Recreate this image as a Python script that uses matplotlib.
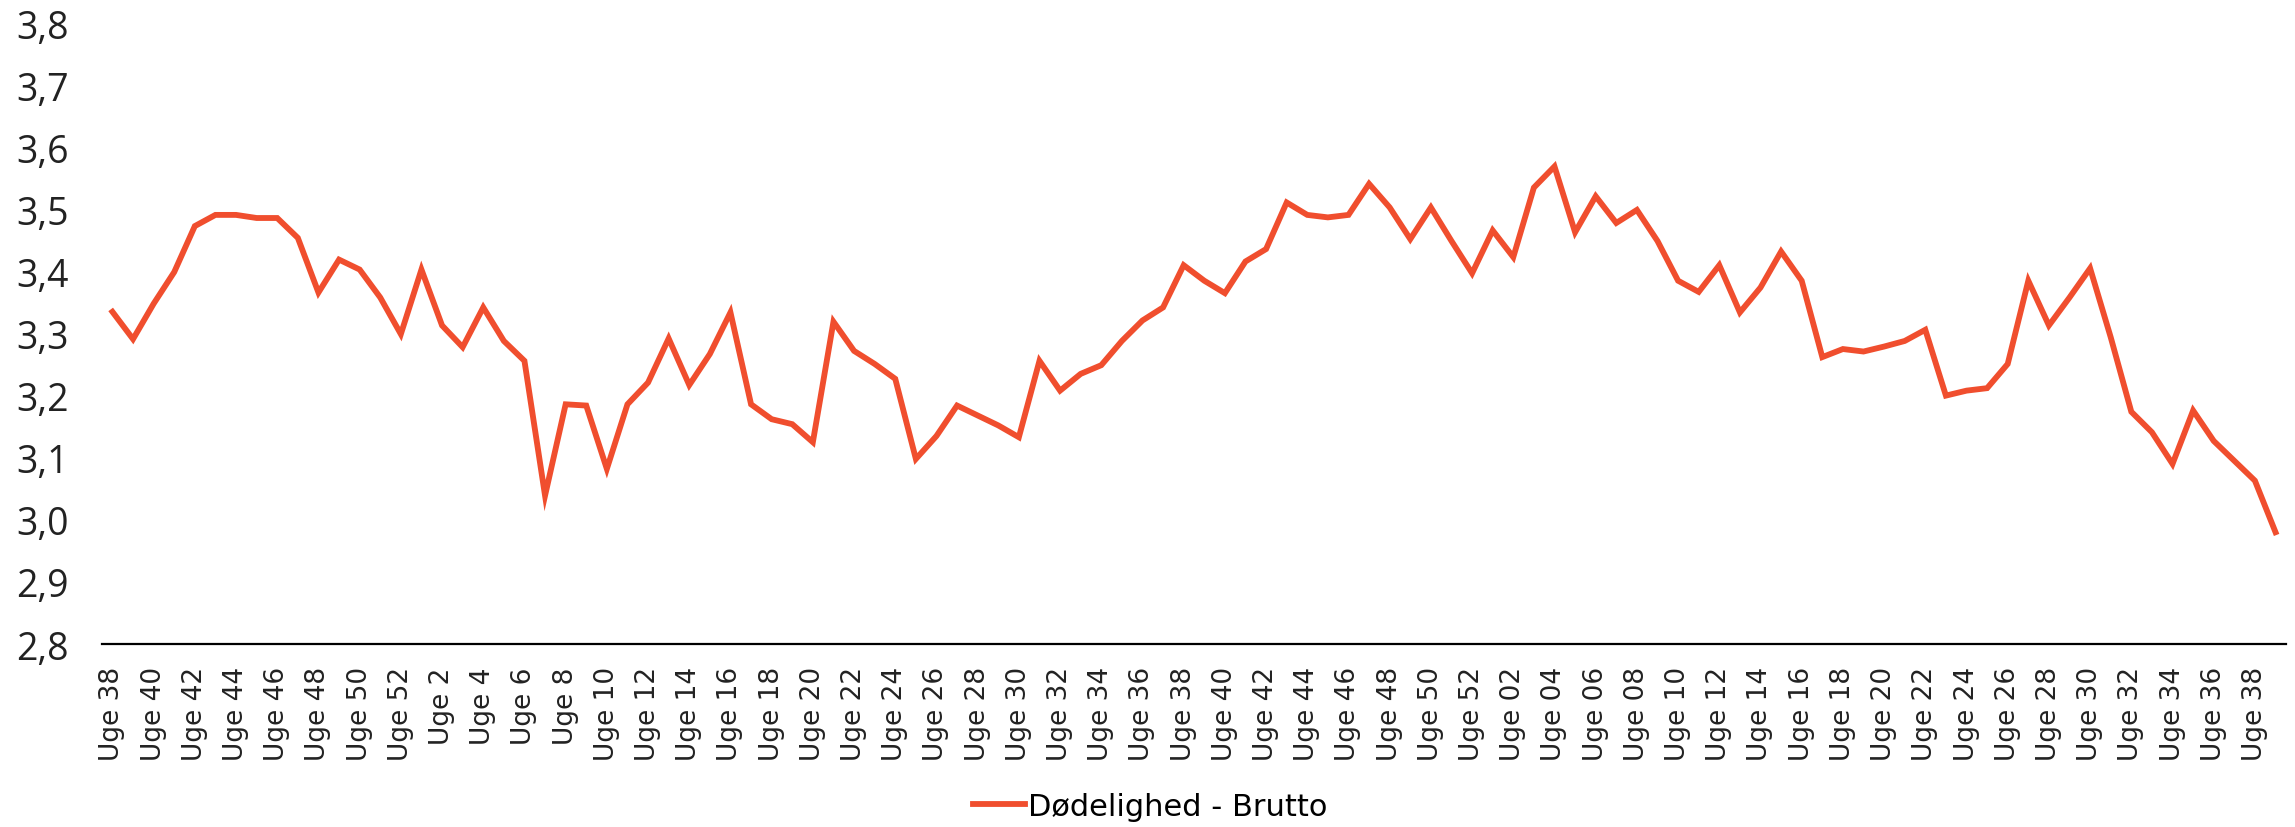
import matplotlib
matplotlib.use('Agg')
import matplotlib.pyplot as plt
from matplotlib.ticker import FuncFormatter, MultipleLocator

# week labels: Uge 38 year 1 -> Uge 39 year 3
weeks_y1 = ['Uge %d' % w for w in range(38, 53)]
weeks_y2 = ['Uge %d' % w for w in range(1, 53)]
weeks_y3 = ['Uge %02d' % w for w in range(1, 40)]
labels = weeks_y1 + weeks_y2 + weeks_y3

# Dødelighed - Brutto
brutto = [3.335, 3.291, 3.348, 3.399, 3.473, 3.491, 3.491, 3.486, 3.486, 3.454,
          3.366, 3.419, 3.403, 3.358, 3.299, 3.403, 3.313, 3.278, 3.342, 3.288,
          3.256, 3.039, 3.186, 3.184, 3.082, 3.186, 3.221, 3.292, 3.217, 3.267,
          3.334, 3.186, 3.162, 3.154, 3.125, 3.319, 3.272, 3.251, 3.227, 3.098,
          3.135, 3.184, 3.168, 3.152, 3.133, 3.256, 3.208, 3.235, 3.249, 3.288,
          3.321, 3.342, 3.410, 3.385, 3.365, 3.416, 3.436, 3.511, 3.491, 3.487,
          3.491, 3.541, 3.503, 3.452, 3.503, 3.449, 3.397, 3.466, 3.423, 3.535,
          3.569, 3.463, 3.521, 3.478, 3.499, 3.449, 3.385, 3.367, 3.410, 3.334,
          3.374, 3.432, 3.385, 3.262, 3.275, 3.271, 3.279, 3.288, 3.306, 3.200,
          3.208, 3.212, 3.251, 3.385, 3.313, 3.358, 3.405, 3.294, 3.174, 3.141,
          3.090, 3.176, 3.127, 3.095, 3.063, 2.980]

x = list(range(len(brutto)))

fig = plt.figure(figsize=(22.95, 8.28), dpi=100)
ax = fig.add_axes([0.0445, 0.221, 0.9515, 0.75])

ax.plot(x, brutto, color='#F04E2E', linewidth=4.2, solid_joinstyle='miter',
        label='Dødelighed - Brutto')

ax.set_xlim(-0.5, len(brutto) - 0.5)
ax.set_ylim(2.8, 3.8)
ax.yaxis.set_major_locator(MultipleLocator(0.1))
ax.yaxis.set_major_formatter(FuncFormatter(lambda v, p: ('%.1f' % v).replace('.', ',')))

ax.set_xticks(x[::2])
ax.set_xticklabels(labels[::2], rotation=90, fontsize=19, family='DejaVu Sans')
for t in ax.get_yticklabels():
    t.set_fontsize(27)
    t.set_family('Open Sans')
    t.set_color('#222222')

ax.tick_params(axis='x', length=0, pad=16, colors='#222222')
ax.tick_params(axis='y', length=0, pad=24)

for s in ['top', 'right', 'left']:
    ax.spines[s].set_visible(False)
ax.spines['bottom'].set_linewidth(1.6)
ax.spines['bottom'].set_color('black')

fig.legend(loc='center', bbox_to_anchor=(0.501, 0.025), frameon=False,
           prop={'family': 'DejaVu Sans', 'size': 22}, handlelength=1.7,
           handletextpad=0.1, borderpad=0)

fig.savefig('out.png', dpi=100)
